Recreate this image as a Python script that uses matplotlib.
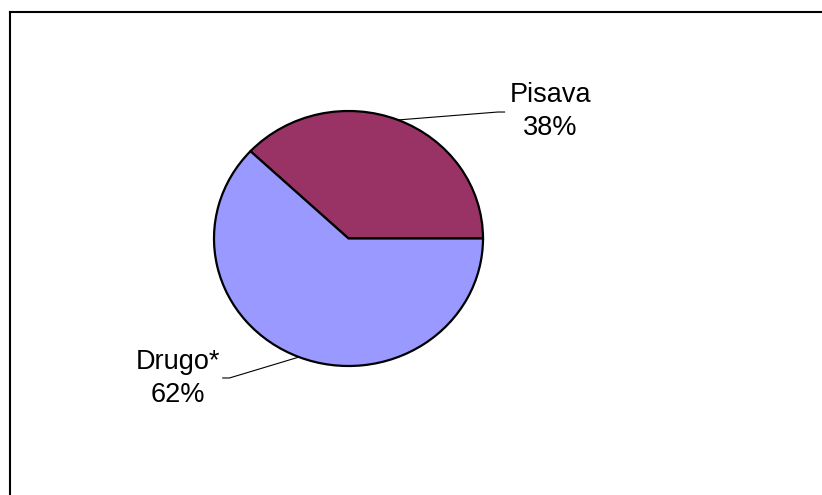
import numpy as np
import matplotlib
matplotlib.use("Agg")
import matplotlib.pyplot as plt
from matplotlib.lines import Line2D

labels = ["Pisava", "Drugo*"]
values = [38, 62]
colors = ["#993366", "#9999FF"]

W, H = 822, 495
fig = plt.figure(figsize=(W / 100, H / 100), dpi=100)
plt.rcParams['font.family'] = ['Liberation Sans', 'DejaVu Sans']

# pie axes placed in pixel coordinates
cx, cy, rx, ry = 348.5, 238.5, 134.5, 127.5
ax = fig.add_axes([(cx - rx) / W, (H - cy - ry) / H, 2 * rx / W, 2 * ry / H])
wedges, _ = ax.pie(values, colors=colors, startangle=0, counterclock=True,
                   radius=1.0, wedgeprops=dict(edgecolor='black', linewidth=1.6))
ax.set_aspect('auto')
ax.set_xlim(-1, 1)
ax.set_ylim(-1, 1)
ax.axis('off')

# label placements (axes data units) and leader endpoints
text_pos = [(1.50, 0.995), (-1.27, -1.095)]
leader_end = [(1.16, 0.992), (-0.935, -1.094)]
knee_dx = [-0.05, 0.05]

for w, lab, v, tp, le, kd in zip(wedges, labels, values, text_pos, leader_end, knee_dx):
    ang = np.deg2rad((w.theta1 + w.theta2) / 2)
    sx, sy = np.cos(ang), np.sin(ang)
    ax.plot([sx, le[0] + kd, le[0]], [sy, le[1], le[1]], color='black',
            lw=0.8, clip_on=False)
    ax.text(tp[0], tp[1], f"{lab}\n{v}%", ha='center', va='center',
            fontsize=19.5, linespacing=1.35, clip_on=False)

# frame (only top and left edges visible)
x0 = 9.5 / W
y0 = 1 - 12 / H
fig.add_artist(Line2D([x0, x0], [0, y0], color='black', lw=1.5,
                      transform=fig.transFigure))
fig.add_artist(Line2D([x0, 1], [y0, y0], color='black', lw=1.5,
                      transform=fig.transFigure))

fig.savefig("out.png", dpi=100, facecolor='white')
